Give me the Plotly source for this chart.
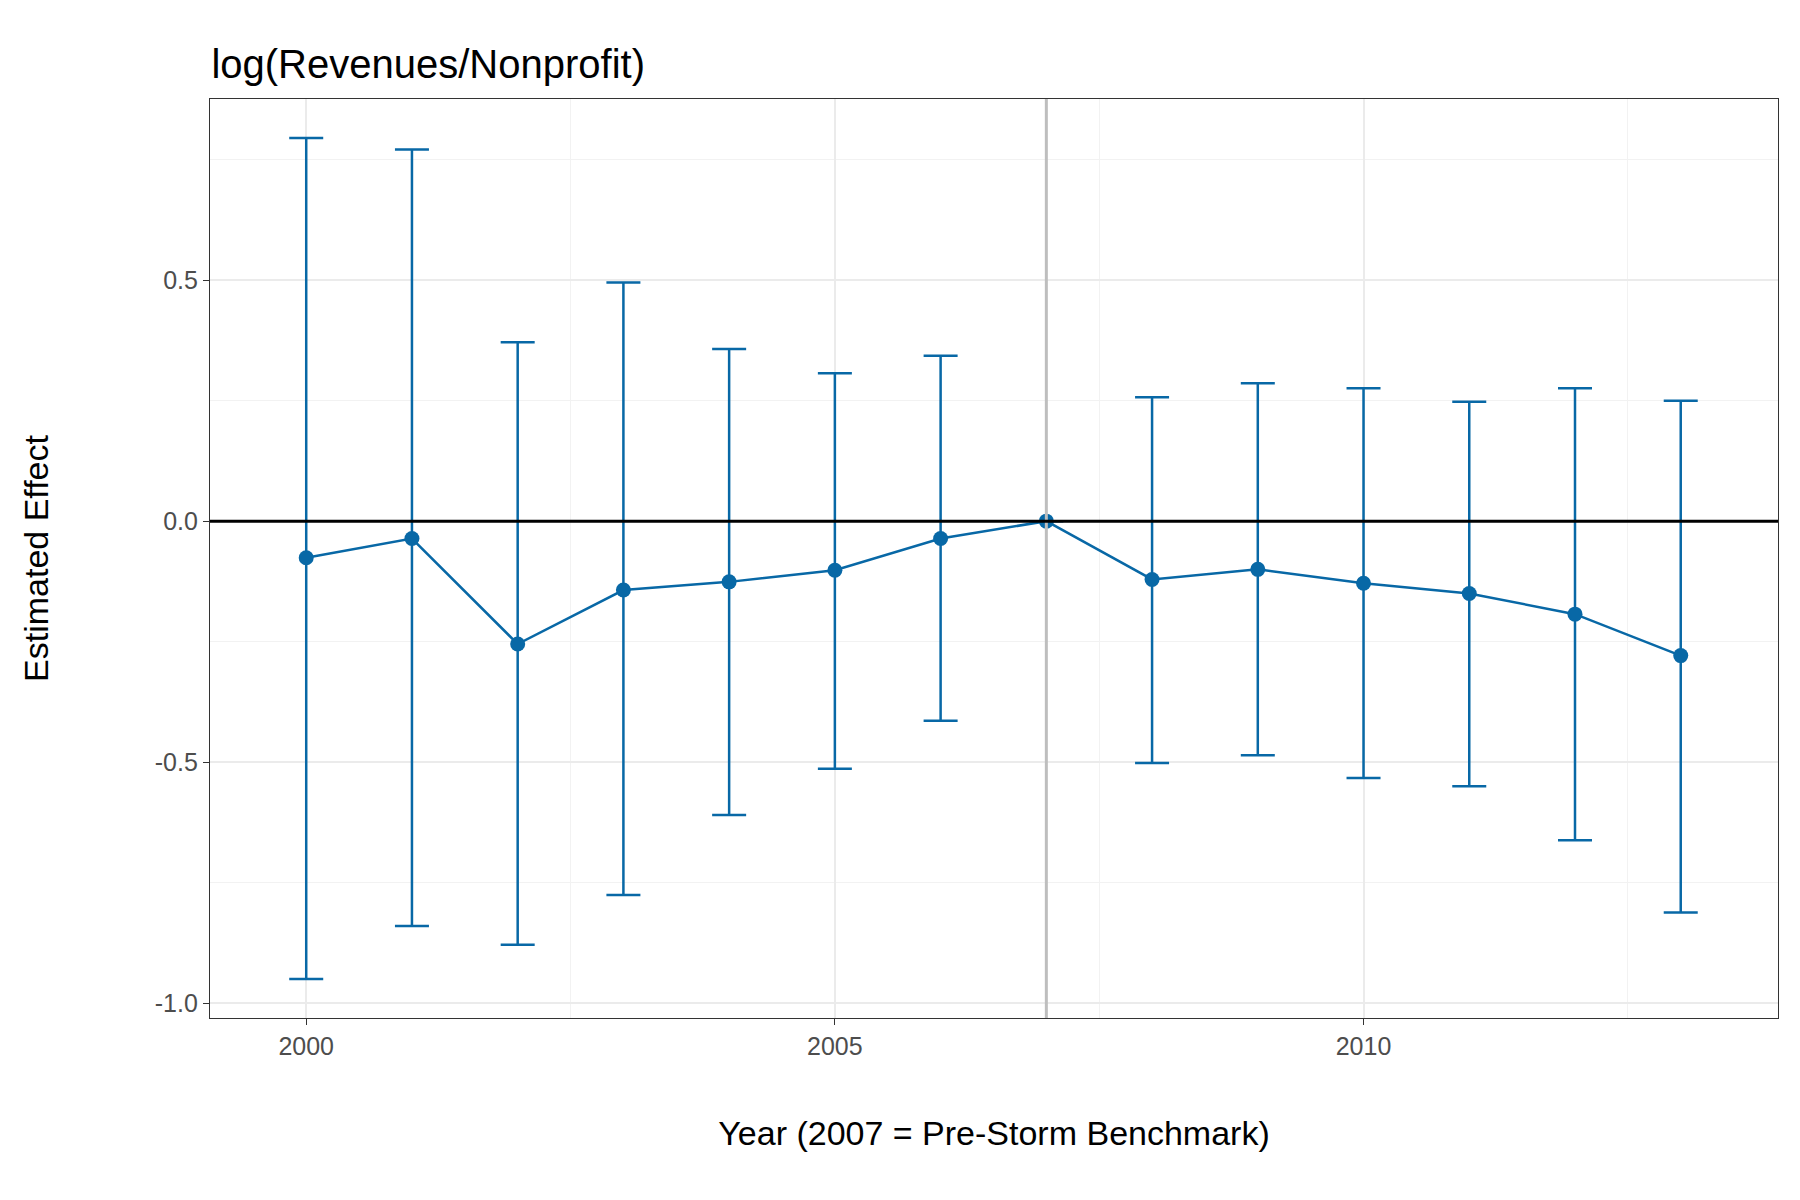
import plotly.graph_objects as go

years = list(range(2000, 2014))
estimate = [-0.076, -0.036, -0.255, -0.143, -0.126, -0.102, -0.036, 0.0,
            -0.121, -0.100, -0.129, -0.150, -0.193, -0.279]
upper = [0.795, 0.771, 0.371, 0.495, 0.357, 0.307, 0.343, 0.0,
         0.257, 0.286, 0.276, 0.248, 0.276, 0.250]
lower = [-0.950, -0.840, -0.879, -0.776, -0.610, -0.514, -0.414, 0.0,
         -0.502, -0.486, -0.533, -0.550, -0.662, -0.812]

blue = '#0868A6'
err_plus = [u - e for u, e in zip(upper, estimate)]
err_minus = [e - l for e, l in zip(estimate, lower)]

fig = go.Figure()
fig.add_vline(x=2007, line_color='#BEBEBE', line_width=3, layer='above')
fig.add_hline(y=0, line_color='black', line_width=3, layer='above')
fig.add_trace(go.Scatter(
    x=years, y=estimate, mode='lines+markers',
    line=dict(color=blue, width=2.5),
    marker=dict(color=blue, size=15),
    error_y=dict(type='data', symmetric=False, array=err_plus, arrayminus=err_minus,
                 color=blue, thickness=2.5, width=17),
    showlegend=False))

axis_common = dict(showline=True, linecolor='#333333', linewidth=1.2, mirror=True,
                   gridcolor='#EBEBEB', gridwidth=2.2, zeroline=False,
                   ticks='outside', ticklen=6, tickcolor='#333333',
                   tickfont=dict(size=25, color='#4D4D4D'))
minor_style = dict(showgrid=True, gridcolor='#F2F2F2', gridwidth=1.2)

fig.update_layout(
    width=1800, height=1200,
    plot_bgcolor='white', paper_bgcolor='white',
    font=dict(family='Liberation Sans, Arial', color='black'),
    margin=dict(l=202, r=30, t=91, b=190),
    title=dict(text='log(Revenues/Nonprofit)', x=0.113, xanchor='left', y=0.965,
               font=dict(size=40, color='black')),
    xaxis=dict(range=[1999.09, 2013.92], tickvals=[2000, 2005, 2010],
               title=dict(text='Year (2007 = Pre-Storm Benchmark)', font=dict(size=34), standoff=62),
               minor=dict(tickvals=[2002.5, 2007.5, 2012.5], **minor_style),
               **axis_common),
    yaxis=dict(range=[-1.031, 0.876], tickvals=[-1.0, -0.5, 0.0, 0.5],
               ticktext=['-1.0', '-0.5', '0.0', '0.5'],
               title=dict(text='Estimated Effect', font=dict(size=34), standoff=95),
               minor=dict(tickvals=[-0.75, -0.25, 0.25, 0.75], **minor_style),
               **axis_common),
)

fig.write_html('out.html')
